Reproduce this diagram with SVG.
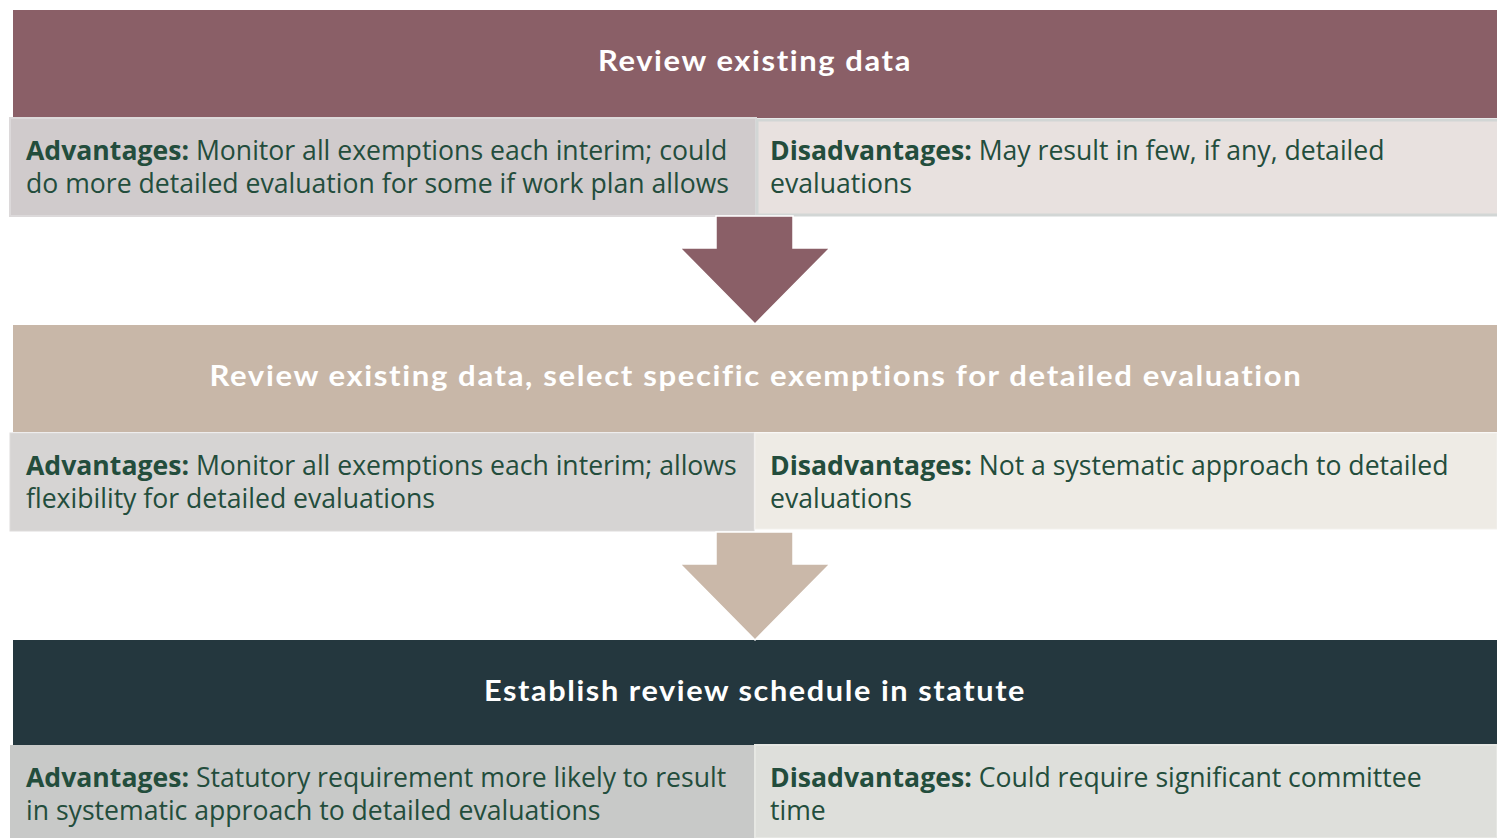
<svg xmlns="http://www.w3.org/2000/svg" width="1497" height="838" viewBox="0 0 1497 838">
  <style>
    .head { font-family: "Lato", "Noto Sans", sans-serif; font-weight: 700; font-size: 29px; fill: #ffffff; text-anchor: middle; letter-spacing: 1.5px; }
    .body { font-family: "Open Sans", "Noto Sans", sans-serif; font-size: 26.6px; fill: #234d3c; }
    .lbl { font-weight: 700; }
  </style>
  <rect width="1497" height="838" fill="#ffffff"/>

  <!-- Step 1 -->
  <g id="step1">
    <rect x="13" y="10" width="1484" height="108" fill="#8a5f67"/>
    <text class="head" x="755" y="71" textLength="314" lengthAdjust="spacingAndGlyphs">Review existing data</text>
  </g>
  <g id="step1-adv">
    <rect x="10" y="118" width="746" height="98" fill="#d0cbcc" stroke="#dcd9da" stroke-width="2"/>
    <text class="body" x="26" y="160"><tspan class="lbl">Advantages:</tspan> Monitor all exemptions each interim; could</text>
    <text class="body" x="26" y="193">do more detailed evaluation for some if work plan allows</text>
  </g>
  <g id="step1-dis">
    <rect x="757" y="120" width="742" height="95" fill="#e8e1df" stroke="#d2d6d5" stroke-width="3"/>
    <text class="body" x="770" y="160"><tspan class="lbl">Disadvantages:</tspan> May result in few, if any, detailed</text>
    <text class="body" x="770" y="193">evaluations</text>
  </g>

  <!-- Step 2 -->
  <g id="step2">
    <rect x="13" y="325" width="1484" height="107" fill="#c8b7a8"/>
    <text class="head" x="756" y="386" textLength="1093" lengthAdjust="spacingAndGlyphs">Review existing data, select specific exemptions for detailed evaluation</text>
  </g>
  <g id="step2-adv">
    <rect x="10" y="433" width="744" height="98" fill="#d6d4d3" stroke="#dedcdb" stroke-width="1"/>
    <text class="body" x="26" y="475"><tspan class="lbl">Advantages:</tspan> Monitor all exemptions each interim; allows</text>
    <text class="body" x="26" y="508">flexibility for detailed evaluations</text>
  </g>
  <g id="step2-dis">
    <rect x="755" y="433" width="742" height="96" fill="#eeebe5" stroke="#f3f1ed" stroke-width="1"/>
    <text class="body" x="770" y="475"><tspan class="lbl">Disadvantages:</tspan> Not a systematic approach to detailed</text>
    <text class="body" x="770" y="508">evaluations</text>
  </g>

  <!-- Step 3 -->
  <g id="step3">
    <rect x="13" y="640" width="1484" height="105" fill="#24373e"/>
    <text class="head" x="755" y="701" textLength="542" lengthAdjust="spacingAndGlyphs">Establish review schedule in statute</text>
  </g>
  <g id="step3-adv">
    <rect x="10" y="745" width="744" height="93" fill="#c8c9c8"/>
    <text class="body" x="26" y="787"><tspan class="lbl">Advantages:</tspan> Statutory requirement more likely to result</text>
    <text class="body" x="26" y="820">in systematic approach to detailed evaluations</text>
  </g>
  <g id="step3-dis">
    <rect x="755" y="745" width="742" height="93" fill="#dedfdb" stroke="#e6e7e3" stroke-width="2"/>
    <text class="body" x="770" y="787"><tspan class="lbl">Disadvantages:</tspan> Could require significant committee</text>
    <text class="body" x="770" y="820">time</text>
  </g>

  <!-- Connectors: block arrows between steps -->
  <g id="connectors" stroke="#ffffff" stroke-width="1.5" stroke-linejoin="miter">
    <path d="M716 216 H793 V248 H830 L755 324 L680 248 H716 Z" fill="#8a5f67"/>
    <path d="M716 532 H793 V564 H830 L755 640 L680 564 H716 Z" fill="#cab8a9"/>
  </g>
</svg>
